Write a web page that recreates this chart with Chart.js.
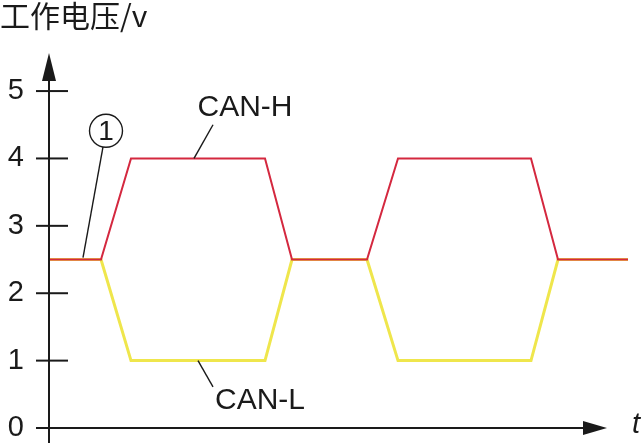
<!DOCTYPE html>
<html>
<head>
<meta charset="utf-8">
<script src="https://cdn.jsdelivr.net/npm/chart.js@4"></script>
<style>
  html, body { margin: 0; padding: 0; background: #fff; }
  #wrap { width: 642px; height: 443px; }
</style>
</head>
<body>
<div id="wrap"><canvas id="canChart"></canvas></div>
<script>
// time axis (arbitrary units) and bus voltages
var times = [0, 52, 82, 216, 243, 318, 349, 482, 509, 579];
var canH = [2.5, 2.5, 4, 4, 2.5, 2.5, 4, 4, 2.5, 2.5];
var canL = [2.5, 2.5, 1, 1, 2.5, 2.5, 1, 1, 2.5, 2.5];
var yTicks = [0, 1, 2, 3, 4, 5];
var yTitle = "工作电压/v";
var xTitle = "t";

const ctx = document.getElementById("canChart").getContext("2d");
const ink = "#1a1a1a";
const latin = "'Liberation Sans', Arial, sans-serif";

function toPoints(ys) {
  return times.map(function (t, i) { return { x: t, y: ys[i] }; });
}

// axes with arrows, crossing ticks and the labels
const zeichnung = {
  id: "zeichnung",
  afterDraw(chart) {
    const c = chart.ctx;
    const a = chart.chartArea;
    const xs = chart.scales.x;
    const ys = chart.scales.y;
    const px = (x, y) => [xs.getPixelForValue(x), ys.getPixelForValue(y)];
    const y0 = ys.getPixelForValue(0);

    c.save();
    c.strokeStyle = ink;
    c.fillStyle = ink;
    c.lineWidth = 2;

    // y axis
    c.beginPath();
    c.moveTo(a.left, chart.height);
    c.lineTo(a.left, a.top + 20);
    c.stroke();
    c.beginPath();
    c.moveTo(a.left, a.top - 1);
    c.lineTo(a.left - 7, a.top + 27);
    c.lineTo(a.left + 7, a.top + 27);
    c.closePath();
    c.fill();

    // x axis
    c.beginPath();
    c.moveTo(a.left - 13, y0);
    c.lineTo(a.right - 40, y0);
    c.stroke();
    c.beginPath();
    c.moveTo(a.right - 21, y0);
    c.lineTo(a.right - 45, y0 - 7);
    c.lineTo(a.right - 45, y0 + 7);
    c.closePath();
    c.fill();

    // ticks
    yTicks.forEach(function (v) {
      const y = ys.getPixelForValue(v);
      c.beginPath();
      c.moveTo(a.left - 13, y);
      c.lineTo(a.left + 19, y);
      c.stroke();
    });

    c.font = "italic 29px " + latin;
    c.textAlign = "left";
    c.textBaseline = "alphabetic";
    c.fillText(xTitle, a.right + 4, y0 + 5);

    // leader lines
    c.lineWidth = 1.4;
    [[[164, 4.50], [145, 4.0]], [[149, 1.0], [164, 0.61]], [[54, 4.17], [34, 2.53]]].forEach(function (l) {
      const p = px(l[0][0], l[0][1]);
      const q = px(l[1][0], l[1][1]);
      c.beginPath();
      c.moveTo(p[0], p[1]);
      c.lineTo(q[0], q[1]);
      c.stroke();
    });

    c.font = "30px " + latin;
    c.textAlign = "center";
    c.textBaseline = "middle";
    let p = px(196, 4.75);
    c.fillText("CAN-H", p[0], p[1]);
    p = px(211, 0.40);
    c.fillText("CAN-L", p[0], p[1]);

    // circled 1
    p = px(57, 4.41);
    c.beginPath();
    c.arc(p[0], p[1], 16.5, 0, Math.PI * 2);
    c.stroke();
    c.font = "28px " + latin;
    c.fillText("1", p[0], p[1] + 1);
    c.restore();
  },
};

const chart = new Chart(ctx, {
  type: "line",
  data: {
    datasets: [
      {
        label: "CAN-H",
        data: toPoints(canH),
        borderColor: "#d4283f",
        borderWidth: 2,
        pointRadius: 0,
        tension: 0,
        clip: false,
      },
      {
        label: "CAN-L",
        data: toPoints(canL),
        borderColor: "#efe64c",
        borderWidth: 3,
        pointRadius: 0,
        tension: 0,
        clip: false,
      },
    ],
  },
  options: {
    responsive: true,
    maintainAspectRatio: false,
    animation: false,
    layout: {
      padding: { left: 0, right: 14, top: 0, bottom: 15 },
    },
    plugins: {
      legend: { display: false },
      tooltip: { enabled: false },
      title: {
        display: true,
        text: yTitle,
        align: "start",
        color: ink,
        font: { family: "'Noto Sans CJK SC', sans-serif", size: 30, weight: "normal", lineHeight: 1 },
        padding: { top: 1, bottom: 23 },
      },
    },
    scales: {
      x: {
        type: "linear",
        display: false,
        min: 0,
        max: 579,
      },
      y: {
        min: 0,
        max: 5.55,
        afterBuildTicks: function (s) {
          s.ticks = yTicks.map(function (v) { return { value: v }; });
        },
        afterFit: function (s) {
          s.width = 49;
          s.paddingTop = 0;
          s.paddingBottom = 0;
        },
        grid: { display: false, drawTicks: false },
        border: { display: false },
        ticks: {
          color: ink,
          padding: 25,
          font: { family: latin, size: 29 },
        },
      },
    },
  },
  plugins: [zeichnung],
});
</script>
</body>
</html>
